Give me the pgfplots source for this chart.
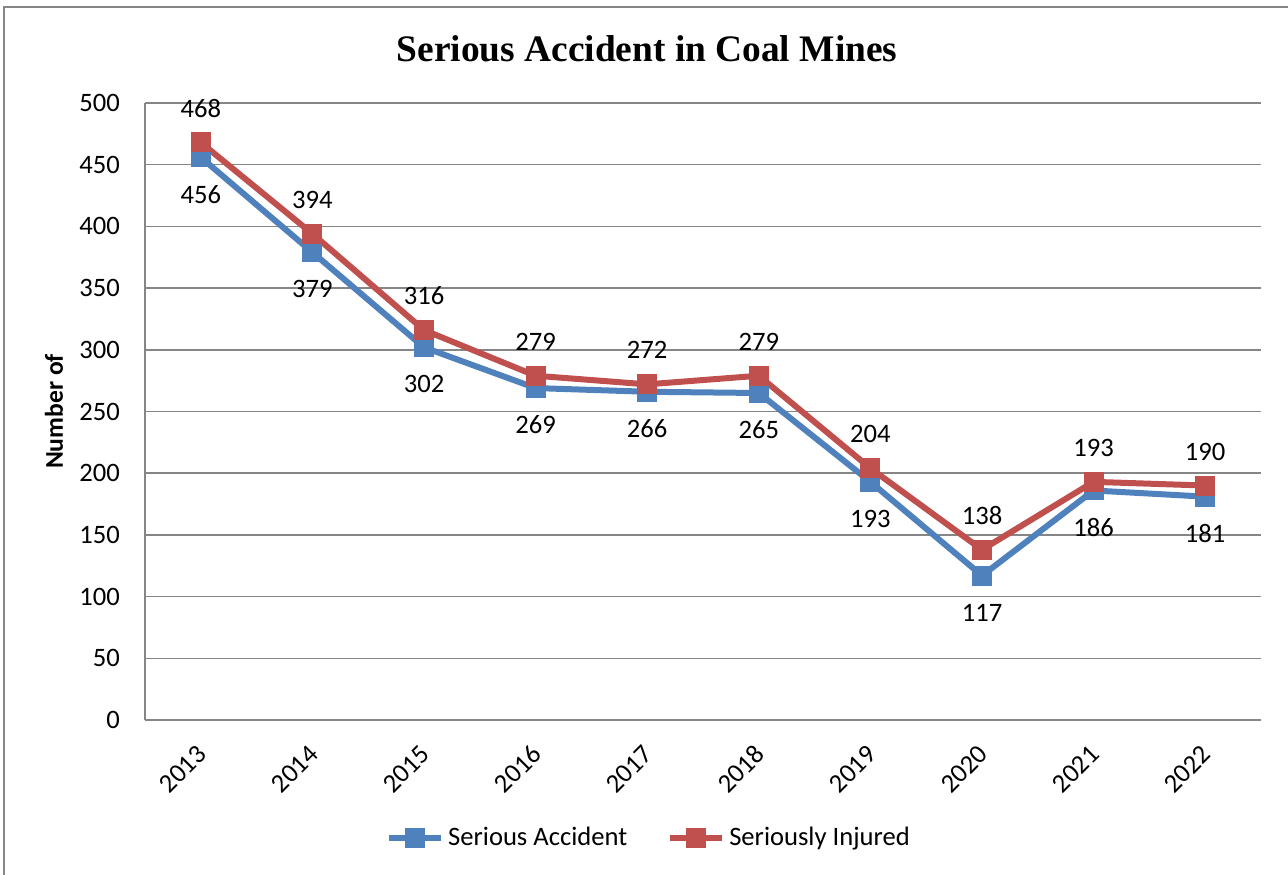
\documentclass[border=0pt]{standalone}
\usepackage{pgfplots}
\pgfplotsset{compat=1.18}
\usepackage{fontspec}
\setmainfont{Carlito}
\newfontfamily\titlefont{Liberation Serif}
\definecolor{sblue}{RGB}{79,129,189}
\definecolor{sred}{RGB}{192,80,77}
\definecolor{gridgray}{RGB}{134,134,134}
\begin{document}
\begin{tikzpicture}
\useasboundingbox (-72.5pt,-77pt) rectangle (571.5pt,360pt);
\draw[gridgray, line width=1pt] (-70.5pt,-78pt) -- (-70.5pt,356.5pt) -- (572pt,356.5pt);
\node[font=\titlefont\fontsize{18.7}{22}\selectfont\bfseries, anchor=center] at (251pt,335.5pt) {Serious Accident in Coal Mines};
\begin{axis}[
  at={(0pt,0pt)}, anchor=south west,
  scale only axis, width=558pt, height=308.5pt,
  xmin=-0.5, xmax=9.5, ymin=0, ymax=500,
  xtick={0,...,9},
  xticklabels={2013,2014,2015,2016,2017,2018,2019,2020,2021,2022},
  ytick={0,50,...,500},
  axis x line=bottom, axis y line=left,
  axis line style={-, gridgray, line width=0.75pt},
  major tick length=0pt,
  ymajorgrids, grid style={gridgray, line width=0.75pt},
  tick label style={font=\fontsize{13.3}{15}\selectfont, black},
  /pgf/number format/assume math mode=true,
  yticklabel style={xshift=-9pt},
  xticklabel style={xshift=3.1pt, yshift=-12.5pt, rotate=45, anchor=east},
  ylabel={Number of},
  ylabel style={font=\fontsize{12.8}{14}\selectfont\bfseries, at={(axis description cs:-0.0815,0.5)}, anchor=center},
  legend style={at={(0.4525,-0.191)}, anchor=center, draw=none, legend columns=2,
    font=\fontsize{13.3}{15}\selectfont,
    /tikz/every even column/.append style={column sep=18pt}},
  legend image code/.code={\draw[mark repeat=2,mark phase=2,#1] plot coordinates {(0pt,0pt) (13pt,0pt) (26pt,0pt)};},
  point meta=y,
  nodes near coords,
  nodes near coords style={font=\fontsize{13.3}{15}\selectfont, black, inner sep=0pt,
    /pgf/number format/fixed, /pgf/number format/precision=0},
]
\addplot[sblue, line width=3pt, mark=square*, mark size=3.5pt, mark options={solid, fill=sblue},
  every node near coord/.append style={anchor=center, yshift=-18.5pt}]
  coordinates {(0,456) (1,379) (2,302) (3,269) (4,266) (5,265) (6,193) (7,117) (8,186) (9,181)};
\addlegendentry{Serious Accident}
\addplot[sred, line width=3pt, mark=square*, mark size=3.5pt, mark options={solid, fill=sred},
  every node near coord/.append style={anchor=center, yshift=17pt}]
  coordinates {(0,468) (1,394) (2,316) (3,279) (4,272) (5,279) (6,204) (7,138) (8,193) (9,190)};
\addlegendentry{Seriously Injured}
\end{axis}
\end{tikzpicture}
\end{document}
